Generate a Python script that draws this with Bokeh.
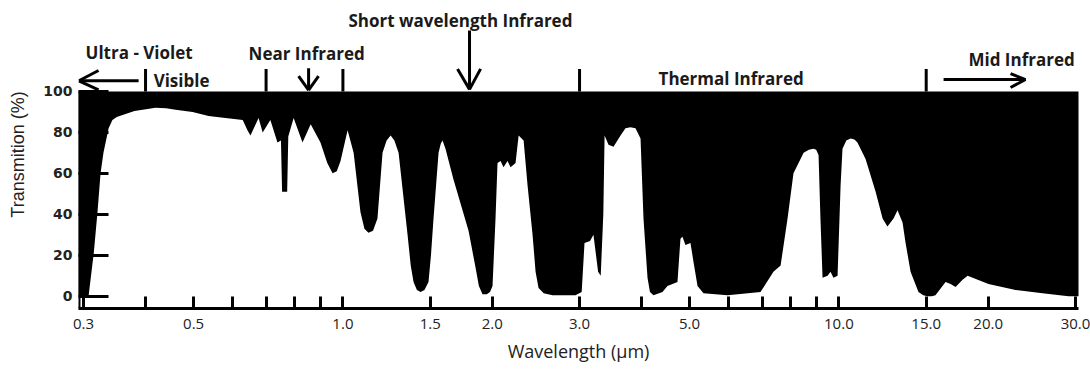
from bokeh.plotting import figure
from bokeh.models import Range1d, FixedTicker
from bokeh.core.properties import value
from bokeh.embed import file_html
from bokeh.resources import INLINE

# ---------------- data ----------------
wavelength = [0.293, 0.307, 0.3145, 0.320, 0.3246, 0.329, 0.337, 0.343, 0.350, 0.3645,
              0.380, 0.3946, 0.419, 0.440, 0.460, 0.4975, 0.536, 0.580, 0.628, 0.642,
              0.651, 0.667, 0.676, 0.689, 0.714, 0.738, 0.750, 0.754, 0.772, 0.776,
              0.7955, 0.829, 0.861, 0.901, 0.930, 0.953, 0.972, 0.989, 1.022, 1.051,
              1.085, 1.105, 1.126, 1.150, 1.174, 1.202, 1.225, 1.248, 1.270, 1.295,
              1.350, 1.370, 1.388, 1.410, 1.434, 1.460, 1.488, 1.505, 1.523, 1.559,
              1.575, 1.588, 1.610, 1.671, 1.792, 1.851, 1.880, 1.912, 1.950, 1.980,
              2.003, 2.031, 2.050, 2.079, 2.108, 2.147, 2.178, 2.229, 2.261, 2.314,
              2.357, 2.412, 2.446, 2.480, 2.540, 2.647, 2.944, 3.03, 3.07, 3.15,
              3.20, 3.27, 3.31, 3.35, 3.37, 3.432, 3.512, 3.629, 3.713, 3.800,
              3.890, 3.982, 4.037, 4.113, 4.160, 4.229, 4.409, 4.512, 4.727, 4.793,
              4.838, 4.905, 5.021, 5.09, 5.188, 5.334, 5.964, 6.95, 7.38, 7.63,
              7.88, 8.10, 8.49, 8.70, 8.89, 9.00, 9.10, 9.18, 9.27, 9.49,
              9.62, 9.75, 9.94, 10.08, 10.17, 10.35, 10.56, 10.75, 10.90, 11.32,
              11.86, 12.25, 12.53, 12.89, 13.13, 13.44, 13.63, 13.95, 14.47, 14.80,
              15.09, 15.40, 15.66, 16.41, 16.80, 17.19, 17.76, 18.18, 20.03, 22.71,
              25.74, 29.04, 30.5]
transmission = [0, 0, 21, 41, 60, 70, 82, 86, 87.5, 89,
                90.5, 91, 92, 91.8, 91, 90, 88, 87, 86, 81,
                78.5, 84, 87, 80, 86, 75, 76, 51, 51, 78,
                87, 75, 84, 75, 65, 60, 61, 66, 81, 70,
                41, 33, 31, 32, 38, 70, 76, 78.5, 76, 70,
                30, 15, 7, 3, 2, 3, 7, 20, 38, 70,
                74.5, 76, 72, 57, 32, 14, 5, 1, 1, 2,
                5, 38, 65, 66, 63, 66, 63, 65, 78.5, 76,
                54, 30, 12, 4, 1.5, 0.5, 0.5, 2, 26, 27,
                30, 12, 10, 40, 78.5, 74, 73, 78.5, 82, 82.5,
                82, 77, 38, 9, 2, 0.5, 2, 5, 7, 28,
                29, 25, 26, 17, 5, 1.5, 0.5, 2, 12, 15,
                38, 60, 70, 71.5, 72, 71.5, 69, 38, 9, 10,
                12, 9, 10, 54, 72, 76, 77, 76.5, 75, 67,
                51, 38, 34, 38, 42, 36, 26, 12, 2, 0.5,
                0, 0, 0.5, 7, 6, 4.5, 8, 10, 6, 3,
                1.5, 0, 0]

x_ticks = [0.3, 0.4, 0.5, 0.6, 0.7, 0.8, 0.9, 1.0, 1.5, 2.0, 3.0, 4.0, 5.0,
           6.0, 7.0, 8.0, 9.0, 10.0, 15.0, 20.0, 30.0]
x_tick_labels = ["0.3", "", "0.5", "", "", "", "", "1.0", "1.5", "2.0", "3.0", "",
                 "5.0", "", "", "", "", "10.0", "15.0", "20.0", "30.0"]
y_ticks = [0, 20, 40, 60, 80, 100]

region_names = ["Ultra - Violet", "Visible", "Near Infrared",
                "Short wavelength Infrared", "Thermal Infrared", "Mid Infrared"]
region_name_x = [0.3028, 0.4153, 0.6453, 1.026, 4.329, 18.25]
region_name_y = [119.0, 105.2, 118.5, 134.6, 106.3, 115.6]

boundary_wavelengths = [0.4, 0.7, 1.0, 3.0, 15.0]

# arrows: shaft from (x0,y0) to tip (x1,y1); head arms end at the tip
arrow_x0 = [0.3873, 0.8527, 1.800, 16.26]
arrow_y0 = [105.2, 111.3, 129.7, 105.8]
arrow_x1 = [0.2935, 0.8527, 1.800, 23.79]
arrow_y1 = [105.2, 100.6, 101.0, 105.8]
head_x = [0.3216, 0.3216, 0.814, 0.893, 1.7026, 1.895, 22.19, 22.19]
head_y = [110.2, 100.8, 107.5, 107.5, 111.0, 111.0, 108.7, 101.9]
head_tip = [0, 0, 1, 1, 2, 2, 3, 3]

# ---------------- figure ----------------
X_START, X_END = 0.2930, 30.42
p = figure(width=1090, height=369, x_axis_type="log",
           x_range=Range1d(X_START, X_END), y_range=Range1d(-6, 144.4),
           output_backend="svg", toolbar_location=None,
           min_border_left=78, min_border_right=12, min_border_top=0,
           min_border_bottom=61)
p.outline_line_color = None
p.xgrid.visible = False
p.ygrid.visible = False
p.background_fill_color = "white"
p.border_fill_color = "white"

# absorption (black) between the transmission curve and 100 %
p.varea(x=wavelength, y1=transmission, y2=[100] * len(wavelength), fill_color="black")

# left axis line only up to 100 %
p.segment(x0=[X_START], y0=[-6], x1=[X_START], y1=[100], line_color="black", line_width=4)

# region boundaries above plot
p.segment(x0=boundary_wavelengths, y0=[100] * 5, x1=boundary_wavelengths, y1=[111] * 5,
          line_color="black", line_width=3)

# arrows
p.segment(x0=arrow_x0, y0=arrow_y0, x1=arrow_x1, y1=arrow_y1, line_color="black", line_width=3)
p.segment(x0=head_x, y0=head_y, x1=[arrow_x1[i] for i in head_tip],
          y1=[arrow_y1[i] for i in head_tip], line_color="black", line_width=3)

# region names
p.text(x=region_name_x, y=region_name_y, text=region_names,
       text_font=value("Open Sans"), text_font_size="17px", text_font_style="bold",
       text_color="#1a1a1a", text_align="left", text_baseline="middle")

# x axis
xa = p.xaxis[0]
xa.ticker = FixedTicker(ticks=x_ticks)
xa.major_label_overrides = {t: l for t, l in zip(x_ticks, x_tick_labels)}
xa.minor_tick_line_color = None
xa.major_tick_in = 12
xa.major_tick_out = 0
xa.major_tick_line_width = 3
xa.major_tick_line_color = "black"
xa.axis_line_width = 3
xa.axis_line_color = "black"
xa.major_label_text_font = "Open Sans"
xa.major_label_text_font_size = "15px"
xa.major_label_text_color = "#222222"
xa.major_label_standoff = 10
xa.axis_label = "Wavelength (μm)"
xa.axis_label_text_font = "Open Sans"
xa.axis_label_text_font_size = "18px"
xa.axis_label_text_font_style = "normal"
xa.axis_label_text_color = "#222222"
xa.axis_label_standoff = 7

# y axis
ya = p.yaxis[0]
ya.ticker = FixedTicker(ticks=y_ticks)
ya.minor_tick_line_color = None
ya.major_tick_in = 30
ya.major_tick_out = 0
ya.major_tick_line_width = 3
ya.major_tick_line_color = "black"
ya.axis_line_color = None
ya.major_label_text_font = "DejaVu Sans"
ya.major_label_text_font_size = "14px"
ya.major_label_text_font_style = "bold"
ya.major_label_text_color = "#222222"
ya.major_label_standoff = 6
ya.axis_label = "Transmition (%)"
ya.axis_label_text_font = "Liberation Sans"
ya.axis_label_text_font_size = "18px"
ya.axis_label_text_font_style = "normal"
ya.axis_label_text_color = "#222222"
ya.axis_label_standoff = 12

open("out.html", "w").write(file_html(p, INLINE))
